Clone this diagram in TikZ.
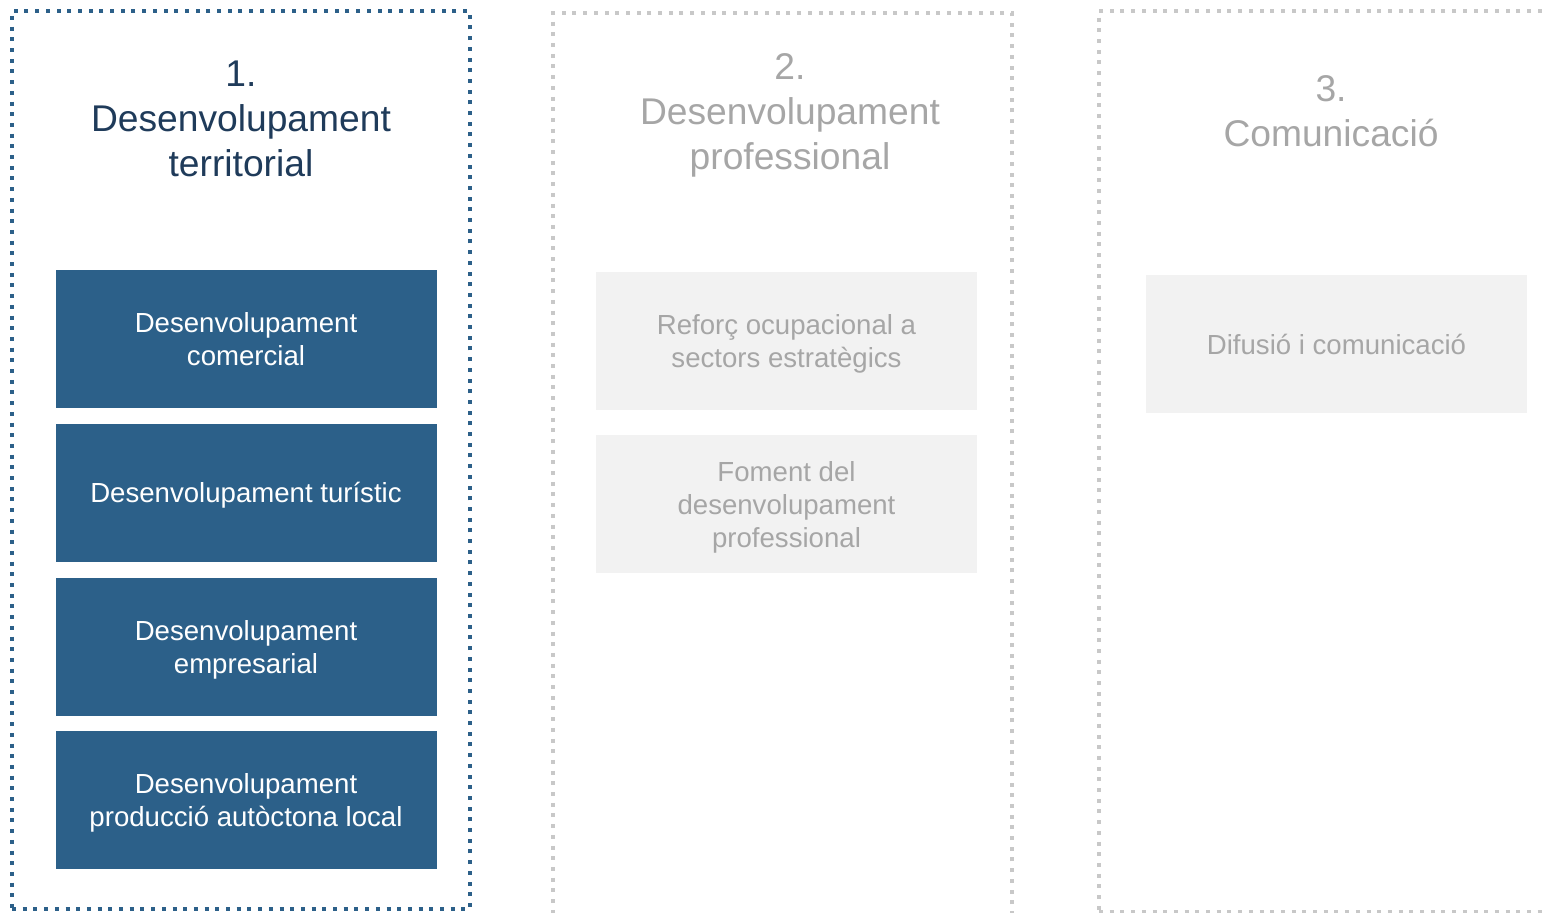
\documentclass[tikz,border=0pt]{standalone}
\usepackage{fontspec}
\setmainfont{Liberation Sans}
\usetikzlibrary{positioning}
\definecolor{boxblue}{HTML}{2C6089}
\definecolor{titleblue}{HTML}{1F3B5A}
\definecolor{dotgray}{HTML}{C8C8C8}
\definecolor{boxgray}{HTML}{F2F2F2}
\definecolor{textgray}{HTML}{A6A6A6}

\begin{document}
\begin{tikzpicture}
				[x=0.5pt, y=-0.5pt,
				 activepanel/.style={rectangle, draw=boxblue, line width=2pt, dash pattern=on 2pt off 3.35pt, inner sep=0pt},
				 idlepanel/.style={rectangle, draw=dotgray, line width=2pt, dash pattern=on 2pt off 3.35pt, inner sep=0pt},
				 paneltitle/.style={align=center, font=\fontsize{18.6}{22.5}\selectfont},
				 activebox/.style={rectangle, fill=boxblue, text=white, minimum width=190.5pt, minimum height=69pt, inner sep=0pt, text depth=0pt, align=center, font=\fontsize{13.8}{16.5}\selectfont, node distance=7.5pt},
				 idlebox/.style={rectangle, fill=boxgray, text=textgray, minimum width=190.5pt, minimum height=69pt, inner sep=0pt, text depth=0pt, align=center, font=\fontsize{13.8}{16.5}\selectfont, node distance=12pt}]
				\useasboundingbox (0,0) rectangle (1547,913);
				\node[activepanel, minimum width=229pt, minimum height=449pt] (p1) at (241,460) {};
				\node[idlepanel, minimum width=229.5pt, minimum height=451.5pt] (p2) at (782.5,464.5) {};
				\node[idlepanel, minimum width=230.5pt, minimum height=450.5pt] (p3) at (1329.5,461.5) {};
				\node[paneltitle, text=titleblue] (t1) at (241,119) {1.\\Desenvolupament\\territorial};
				\node[paneltitle, text=textgray] (t2) at (790,115) {2.\\Desenvolupament\\professional};
				\node[paneltitle, text=textgray] (t3) at (1331,111) {3.\\Comunicació};
				\node[activebox] (comercial) at (246,339) {Desenvolupament\\comercial};
				\node[activebox, below=of comercial] (turistic) {Desenvolupament turístic};
				\node[activebox, below=of turistic] (empresarial) {Desenvolupament\\empresarial};
				\node[activebox, below=of empresarial] (local) {Desenvolupament\\producció autòctona local};
				\node[idlebox] (reforc) at (786.5,341.5) {Reforç ocupacional a\\sectors estratègics};
				\node[idlebox, below=of reforc] (foment) {Foment del\\desenvolupament\\professional};
				\node[idlebox] (difusio) at (1336.5,344.5) {Difusió i comunicació};
			\end{tikzpicture}
\end{document}
